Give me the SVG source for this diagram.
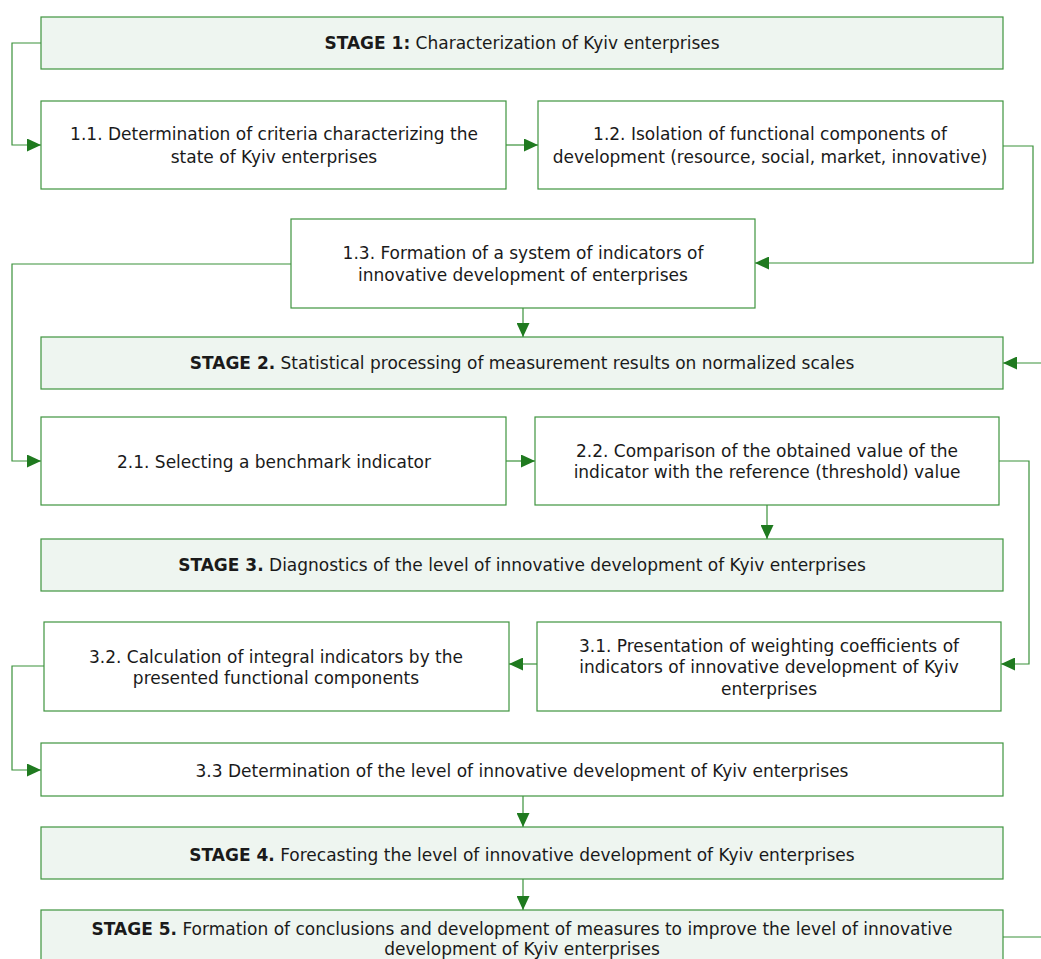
<svg xmlns="http://www.w3.org/2000/svg" width="1041" height="959" viewBox="0 0 1041 959">
<style>
.box{fill:#ffffff;stroke:#3f943f;stroke-width:1.2}
.stage{fill:#eef5f0;stroke:#3f943f;stroke-width:1.2}
text{font-family:"DejaVu Sans","Liberation Sans",sans-serif;font-size:17px;fill:#1a1a1a;text-anchor:middle}
.b{font-weight:bold}
.conn{fill:none;stroke:#3a913a;stroke-width:1.2}
</style>
<defs>
<marker id="ah" viewBox="0 0 14 13" refX="14" refY="6.5" markerWidth="14" markerHeight="13" markerUnits="userSpaceOnUse" orient="auto">
<path d="M0,0 L14,6.5 L0,13 Z" fill="#1f7a1f"/>
</marker>
</defs>
<g id="connectors">
<path class="conn" d="M41,43 H12 V145 H41" marker-end="url(#ah)"/>
<path class="conn" d="M506,145 H538" marker-end="url(#ah)"/>
<path class="conn" d="M1003,146 H1033 V263 H755" marker-end="url(#ah)"/>
<path class="conn" d="M291,264 H12 V461 H41" marker-end="url(#ah)"/>
<path class="conn" d="M523,308 V337" marker-end="url(#ah)"/>
<path class="conn" d="M1003,937 H1046 V363 H1003" marker-end="url(#ah)"/>
<path class="conn" d="M506,461 H535" marker-end="url(#ah)"/>
<path class="conn" d="M767,505 V539" marker-end="url(#ah)"/>
<path class="conn" d="M999,461 H1029 V664 H1001" marker-end="url(#ah)"/>
<path class="conn" d="M537,664 H509" marker-end="url(#ah)"/>
<path class="conn" d="M44,666 H12 V770 H41" marker-end="url(#ah)"/>
<path class="conn" d="M523,796 V827" marker-end="url(#ah)"/>
<path class="conn" d="M523,879 V910" marker-end="url(#ah)"/>
</g>
<g id="stage1">
<rect class="stage" x="41" y="17" width="962" height="52"/>
<text x="522" y="49"><tspan class="b">STAGE 1:</tspan> Characterization of Kyiv enterprises</text>
</g>
<g id="n11">
<rect class="box" x="41" y="101" width="465" height="88"/>
<text x="274" y="140">1.1. Determination of criteria characterizing the</text>
<text x="274" y="163">state of Kyiv enterprises</text>
</g>
<g id="n12">
<rect class="box" x="538" y="101" width="465" height="88"/>
<text x="770" y="140">1.2. Isolation of functional components of</text>
<text x="770" y="163">development (resource, social, market, innovative)</text>
</g>
<g id="n13">
<rect class="box" x="291" y="219" width="464" height="89"/>
<text x="523" y="259">1.3. Formation of a system of indicators of</text>
<text x="523" y="281">innovative development of enterprises</text>
</g>
<g id="stage2">
<rect class="stage" x="41" y="337" width="962" height="52"/>
<text x="522" y="369"><tspan class="b">STAGE 2.</tspan> Statistical processing of measurement results on normalized scales</text>
</g>
<g id="n21">
<rect class="box" x="41" y="417" width="465" height="88"/>
<text x="274" y="468">2.1. Selecting a benchmark indicator</text>
</g>
<g id="n22">
<rect class="box" x="535" y="417" width="464" height="88"/>
<text x="767" y="457">2.2. Comparison of the obtained value of the</text>
<text x="767" y="478">indicator with the reference (threshold) value</text>
</g>
<g id="stage3">
<rect class="stage" x="41" y="539" width="962" height="52"/>
<text x="522" y="571"><tspan class="b">STAGE 3.</tspan> Diagnostics of the level of innovative development of Kyiv enterprises</text>
</g>
<g id="n31">
<rect class="box" x="537" y="622" width="464" height="89"/>
<text x="769" y="652">3.1. Presentation of weighting coefficients of</text>
<text x="769" y="673">indicators of innovative development of Kyiv</text>
<text x="769" y="695">enterprises</text>
</g>
<g id="n32">
<rect class="box" x="44" y="622" width="465" height="89"/>
<text x="276" y="663">3.2. Calculation of integral indicators by the</text>
<text x="276" y="684">presented functional components</text>
</g>
<g id="n33">
<rect class="box" x="41" y="743" width="962" height="53"/>
<text x="522" y="777">3.3 Determination of the level of innovative development of Kyiv enterprises</text>
</g>
<g id="stage4">
<rect class="stage" x="41" y="827" width="962" height="52"/>
<text x="522" y="861"><tspan class="b">STAGE 4.</tspan> Forecasting the level of innovative development of Kyiv enterprises</text>
</g>
<g id="stage5">
<rect class="stage" x="41" y="910" width="962" height="60"/>
<text x="522" y="935"><tspan class="b">STAGE 5.</tspan> Formation of conclusions and development of measures to improve the level of innovative</text>
<text x="522" y="955">development of Kyiv enterprises</text>
</g>
</svg>
